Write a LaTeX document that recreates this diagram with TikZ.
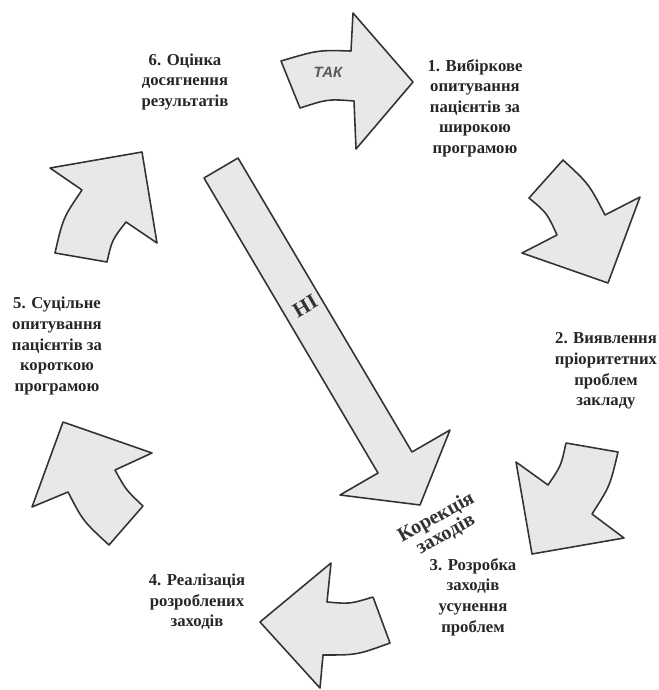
\documentclass[tikz,border=0pt]{standalone}
\usepackage{fontspec}
\setmainfont{Liberation Serif}
\setsansfont{Liberation Sans}
\usepackage{tikz}

\begin{document}
\begin{tikzpicture}[
    x=0.02cm, y=-0.02cm,
    stepbox/.style={
        align=center,
        inner sep=0pt,
        text=black!85,
        font=\fontsize{9.5}{11.7}\selectfont\bfseries
    },
    bigarrow/.style={
        draw=black!80,
        fill=gray!18,
        line width=0.9pt,
        line join=round
    },
    answer/.style={
        inner sep=0pt,
        text=black!80,
        font=\fontsize{12}{12}\selectfont\bfseries
    }
]
\useasboundingbox (0,0) rectangle (659,690);

% arrows round the circle
\draw[bigarrow] (281,61) .. controls (318,50) .. (351,51) -- (353,13) -- (413,82)
    -- (356,149) -- (354,101) .. controls (328,99) .. (300,108) -- cycle;
\draw[bigarrow] (563,160) .. controls (589,184) .. (605,215) -- (640,197) -- (608,283)
    -- (522,253) -- (557,235) .. controls (547,213) .. (529,198) -- cycle;
\draw[bigarrow] (566,443) -- (618,452) .. controls (610,486) .. (592,514) -- (624,538)
    -- (532,554) -- (516,462) -- (548,485) .. controls (561,466) .. (566,443);
\draw[bigarrow] (373,597) -- (390,643) .. controls (357,655) .. (323,655) -- (320,688)
    -- (260,622) -- (331,563) -- (327,602) .. controls (350,604) .. (373,597);
\draw[bigarrow] (63,422) -- (152,453) -- (115,470) .. controls (126,490) .. (143,506)
    -- (109,545) .. controls (83,521) .. (68,492) -- (32,507) -- cycle;
\draw[bigarrow] (142,152) -- (157,243) -- (126,222) .. controls (112,240) .. (107,262)
    -- (55,253) .. controls (63,218) .. (82,190) -- (50,168) -- cycle;

% long arrow through the middle
\draw[bigarrow] (204,178) -- (238,158) -- (412,452) -- (450,430) -- (420,505)
    -- (340,495) -- (378,473) -- cycle;

% steps
\node[stepbox] (s6) at (185,82) {6. Оцінка\\досягнення\\результатів};
\node[stepbox] (s1) at (475,108) {1. Вибіркове\\опитування\\пацієнтів за\\широкою\\програмою};
\node[stepbox] (s2) at (606,371) {2. Виявлення\\пріоритетних\\проблем\\закладу};
\node[stepbox] (s3) at (473,597) {3. Розробка\\заходів\\усунення\\проблем};
\node[stepbox] (s4) at (197,602) {4. Реалізація\\розроблених\\заходів};
\node[stepbox] (s5) at (57,346) {5. Суцільне\\опитування\\пацієнтів за\\короткою\\програмою};

% labels on the arrows
\node[inner sep=0pt, text=black!65, font=\sffamily\bfseries\itshape\fontsize{8.5}{8.5}\selectfont] (yes) at (328,72) {ТАК};
\node[answer, rotate=30] (no) at (305,306) {НІ};
\node[answer, align=center, rotate=29, font=\fontsize{11.5}{11}\selectfont\bfseries] (fix) at (441,526) {Корекція\\заходів};

\end{tikzpicture}
\end{document}
